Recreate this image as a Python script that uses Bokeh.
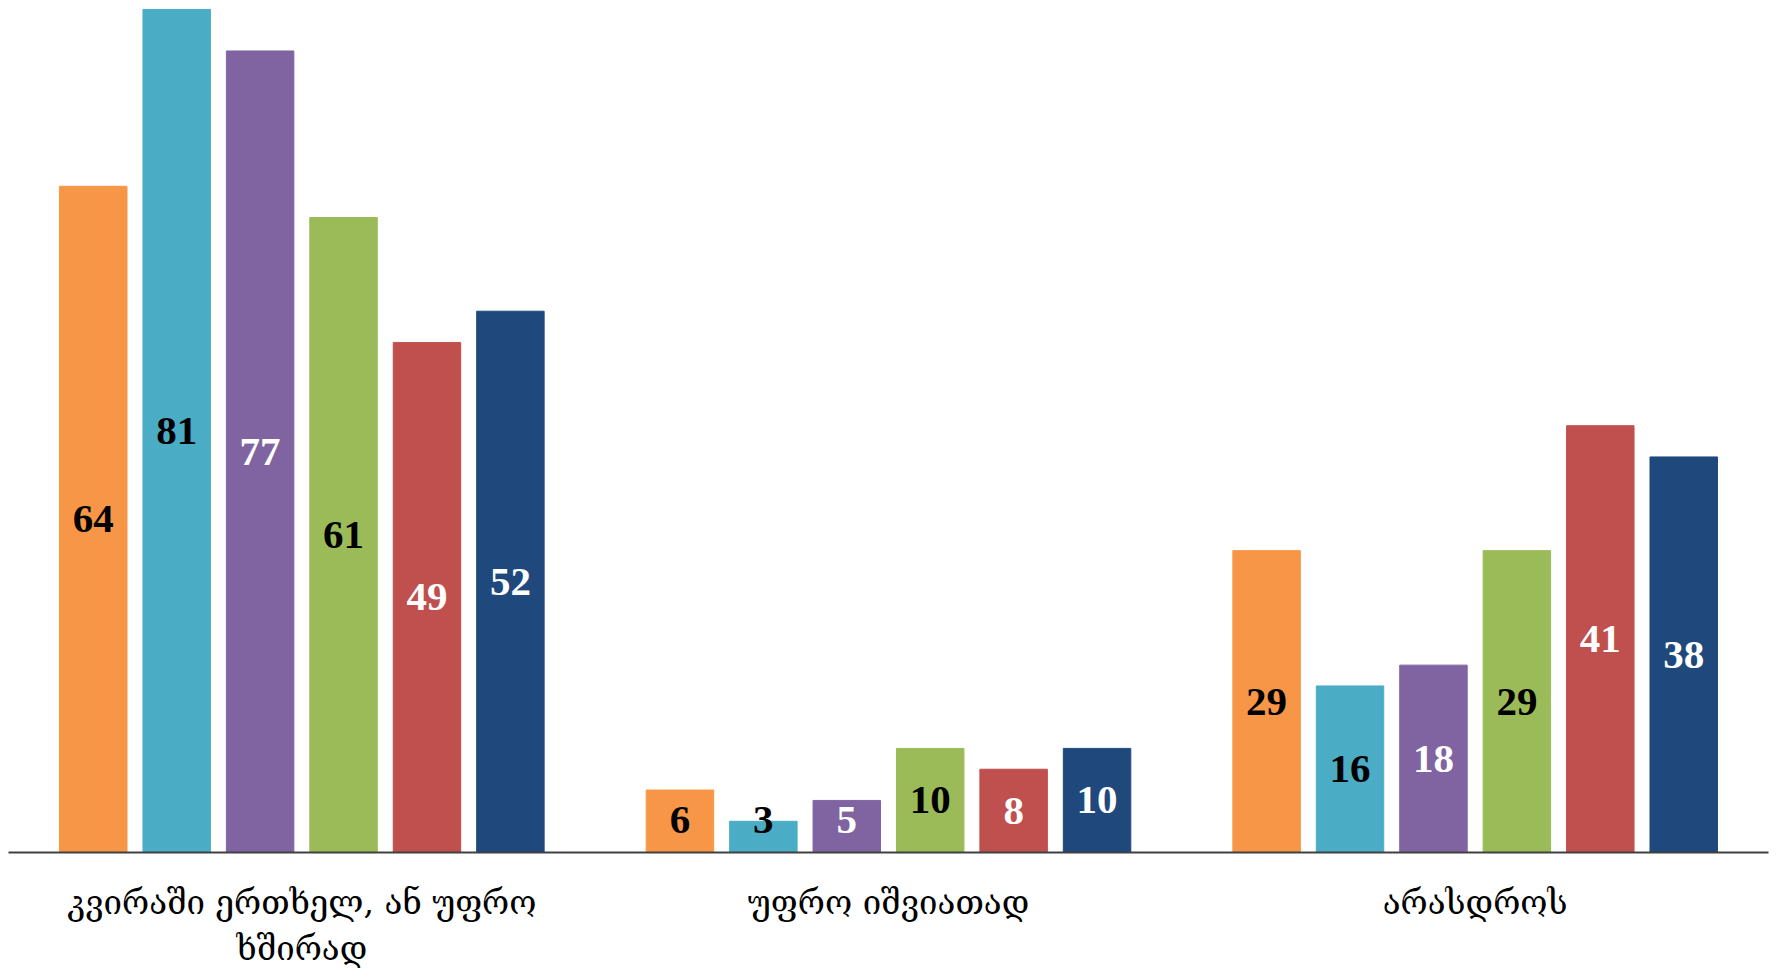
from bokeh.plotting import figure
from bokeh.models import ColumnDataSource, FactorRange, Range1d
from bokeh.transform import dodge
from bokeh.core.properties import value
from bokeh.embed import file_html
from bokeh.resources import INLINE

categories = ["კვირაში ერთხელ, ან უფრო\nხშირად", "უფრო იშვიათად", "არასდროს"]
series_1 = [64, 6, 29]
series_2 = [81, 3, 16]
series_3 = [77, 5, 18]
series_4 = [61, 10, 29]
series_5 = [49, 8, 41]
series_6 = [52, 10, 38]
all_series = [series_1, series_2, series_3, series_4, series_5, series_6]
bar_colors = ["#F79646", "#4BACC6", "#8064A2", "#9BBB59", "#C0504D", "#1F497D"]
label_colors = ["black", "black", "white", "black", "white", "white"]

p = figure(
    x_range=FactorRange(*categories, range_padding=0.0),
    y_range=Range1d(0, 81.08),
    width=1777, height=971,
    output_backend="svg", toolbar_location=None,
    min_border_left=8, min_border_right=9, min_border_top=8, min_border_bottom=119,
)
p.background_fill_color = "white"
p.border_fill_color = "white"
p.outline_line_color = None
p.xgrid.grid_line_color = None
p.ygrid.grid_line_color = None
p.yaxis.visible = False

step = 0.1422
bw = 0.115
for i, (vals, c, lc) in enumerate(zip(all_series, bar_colors, label_colors)):
    off = (i - 2.5) * step
    src = ColumnDataSource(dict(
        cat=categories,
        val=vals,
        ly=[max(v / 2, 3.1) for v in vals],
        txt=[str(v) for v in vals],
    ))
    p.vbar(x=dodge("cat", off, range=p.x_range), top="val", bottom=0, width=bw,
           source=src, fill_color=c, line_color=c, line_width=1)
    p.text(x=dodge("cat", off, range=p.x_range), y="ly", text="txt", source=src,
           text_align="center", text_baseline="middle",
           text_font=value("Liberation Serif"), text_font_style="bold",
           text_font_size="41px", text_color=lc)

ax = p.xaxis[0]
ax.axis_line_color = "#404040"
ax.axis_line_width = 2
ax.major_tick_line_color = None
ax.minor_tick_line_color = None
ax.major_label_standoff = 24
ax.major_label_text_font = "DejaVu Serif"
ax.major_label_text_font_size = "33px"
ax.major_label_text_color = "black"
ax.major_label_orientation = "horizontal"

open("out.html", "w").write(file_html(p, INLINE))
